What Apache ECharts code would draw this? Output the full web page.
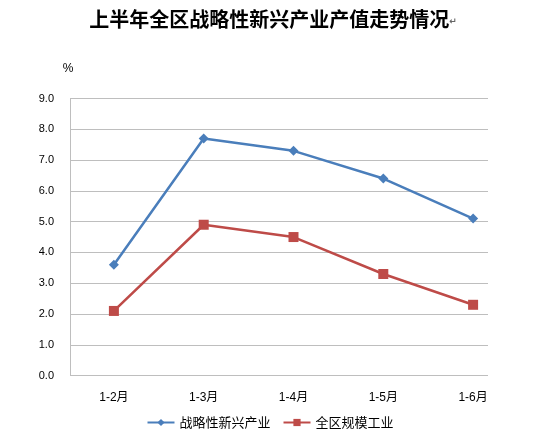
<!DOCTYPE html>
<html><head><meta charset="utf-8">
<script src="https://cdn.jsdelivr.net/npm/echarts@6/dist/echarts.min.js"></script>
<style>html,body{margin:0;padding:0;background:#fff}#c{width:540px;height:440px}</style>
</head><body><div id="c"></div>
<script>
const categories = ['1-2月', '1-3月', '1-4月', '1-5月', '1-6月'];
const strategic = [3.6, 7.7, 7.3, 6.4, 5.1];
const industry = [2.1, 4.9, 4.5, 3.3, 2.3];
const seriesNames = ['战略性新兴产业', '全区规模工业'];
const yTicks = { min: 0, max: 9, interval: 1 };

const chart = echarts.init(document.getElementById('c'));
const font = '"Liberation Sans", Arial, "Noto Sans CJK SC", sans-serif';
chart.setOption({
  animation: false,
  backgroundColor: '#fff',
  title: {
    text: '{t|上半年全区战略性新兴产业产值走势情况}{r|↵}',
    left: 268, top: 4, textAlign: 'center',
    textStyle: {
      rich: {
        t: { fontFamily: '"Noto Sans CJK SC", sans-serif', fontSize: 20, fontWeight: 'bold', color: '#000' },
        r: { fontFamily: '"DejaVu Sans", sans-serif', fontSize: 9, color: '#666', padding: [6, 0, 0, 0] }
      }
    }
  },
  legend: {
    bottom: 6, left: 'center',
    itemWidth: 27, itemHeight: 9, itemGap: 12,
    textStyle: { fontFamily: '"Noto Sans CJK SC", sans-serif', fontSize: 13, color: '#000' },
    data: seriesNames
  },
  grid: [
    { left: 69, right: 22, top: 98.5, bottom: 64.4 },
    { left: 70, right: 52, top: 98.5, bottom: 64.4 }
  ],
  xAxis: [
    { type: 'category', gridIndex: 0, data: categories, boundaryGap: true,
      axisLine: { show: false }, axisTick: { show: false },
      axisLabel: { margin: 16, fontSize: 12, color: '#000', fontFamily: font } },
    { type: 'value', gridIndex: 1, show: false, min: 0, max: 1 }
  ],
  yAxis: [
    { type: 'value', gridIndex: 0, show: false, min: yTicks.min, max: yTicks.max, interval: yTicks.interval },
    { type: 'value', gridIndex: 1, min: yTicks.min, max: yTicks.max, interval: yTicks.interval,
      name: '%', nameLocation: 'end', nameGap: 24,
      nameTextStyle: { fontSize: 12, color: '#000', fontFamily: font, align: 'center', padding: [0, 4, 0, 0] },
      axisLine: { show: true, lineStyle: { color: '#BEBEBE', width: 1 } },
      axisTick: { show: false },
      splitLine: { show: true, lineStyle: { color: '#BEBEBE', width: 1 } },
      axisLabel: { margin: 16, fontSize: 11, color: '#000', fontFamily: font,
        formatter: v => v.toFixed(1) } }
  ],
  series: [
    { name: seriesNames[0], type: 'line', xAxisIndex: 0, yAxisIndex: 0, data: strategic,
      symbol: 'diamond', symbolSize: 10, color: '#4A7EBB',
      lineStyle: { width: 2.5, color: '#4A7EBB' }, itemStyle: { color: '#4A7EBB' } },
    { name: seriesNames[1], type: 'line', xAxisIndex: 0, yAxisIndex: 0, data: industry,
      symbol: 'rect', symbolSize: 10, color: '#BE4B48',
      lineStyle: { width: 2.5, color: '#BE4B48' }, itemStyle: { color: '#BE4B48' } }
  ]
});
</script></body></html>
